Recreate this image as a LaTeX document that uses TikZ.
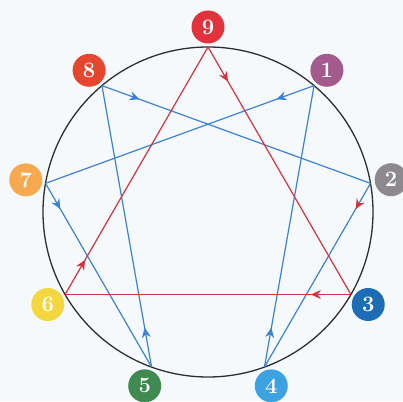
\documentclass[tikz,border=0pt]{standalone}
\usepackage{xcolor}
\usetikzlibrary{arrows.meta,decorations.markings}
\definecolor{ennPaper}{HTML}{F6F9FC}
\definecolor{ennRing}{HTML}{2E2E30}
\definecolor{ennRed}{HTML}{D3343E}
\definecolor{ennBlue}{HTML}{3C82D2}
\definecolor{badgeNine}{HTML}{E2323E}
\definecolor{badgeEight}{HTML}{E6452E}
\definecolor{badgeOne}{HTML}{A35B8E}
\definecolor{badgeTwo}{HTML}{8C8A8E}
\definecolor{badgeThree}{HTML}{1C6DB5}
\definecolor{badgeFour}{HTML}{3DA2E2}
\definecolor{badgeFive}{HTML}{3E8A50}
\definecolor{badgeSix}{HTML}{F4D63E}
\definecolor{badgeSeven}{HTML}{F6A94E}

\begin{document}
\begin{tikzpicture}[
  x=1pt,y=1pt,
  ring/.style={draw=ennRing,line width=1.3pt},
  badge/.style={circle,minimum size=33pt,inner sep=0pt,text=white,font=\fontsize{22}{22}\selectfont\bfseries},
  flow/.style 2 args={draw=#1,line width=1.2pt,postaction={decorate,decoration={markings,mark=at position 0.14 with {\arrow[#2]{Stealth[length=10pt,width=9pt]}}}}}
]
\fill[ennPaper] (0,0) rectangle (403,401);
\useasboundingbox (0,0) rectangle (403,401);
\begin{scope}[shift={(208,189)}]
% points on the ring
\coordinate (p9) at (90:165);
\coordinate (p1) at (50:165);
\coordinate (p2) at (10:165);
\coordinate (p3) at (-30:165);
\coordinate (p4) at (-70:165);
\coordinate (p5) at (-110:165);
\coordinate (p6) at (-150:165);
\coordinate (p7) at (170:165);
\coordinate (p8) at (130:165);
\draw[ring] (0,0) circle (165);
% hexad
\draw[flow={ennBlue}{ennBlue}] (p1) -- (p7);
\draw[flow={ennBlue}{ennBlue}] (p7) -- (p5);
\draw[flow={ennBlue}{ennBlue}] (p5) -- (p8);
\draw[flow={ennBlue}{ennBlue}] (p8) -- (p2);
\draw[flow={ennBlue}{ennRed}] (p2) -- (p4);
\draw[flow={ennBlue}{ennBlue}] (p4) -- (p1);
% triangle
\draw[flow={ennRed}{ennRed}] (p9) -- (p3);
\draw[flow={ennRed}{ennRed}] (p3) -- (p6);
\draw[flow={ennRed}{ennRed}] (p6) -- (p9);
% number badges
\node[badge,fill=badgeNine] (n9) at (90:185) {9};
\node[badge,fill=badgeOne] (n1) at (50:185) {1};
\node[badge,fill=badgeTwo] (n2) at (10:186) {2};
\node[badge,fill=badgeThree] (n3) at (-30:185) {3};
\node[badge,fill=badgeFour] (n4) at (-70:185) {4};
\node[badge,fill=badgeFive] (n5) at (-110:185) {5};
\node[badge,fill=badgeSix] (n6) at (-150:185) {6};
\node[badge,fill=badgeSeven] (n7) at (170:185) {7};
\node[badge,fill=badgeEight] (n8) at (130:185) {8};
\end{scope}
\end{tikzpicture}
\end{document}
